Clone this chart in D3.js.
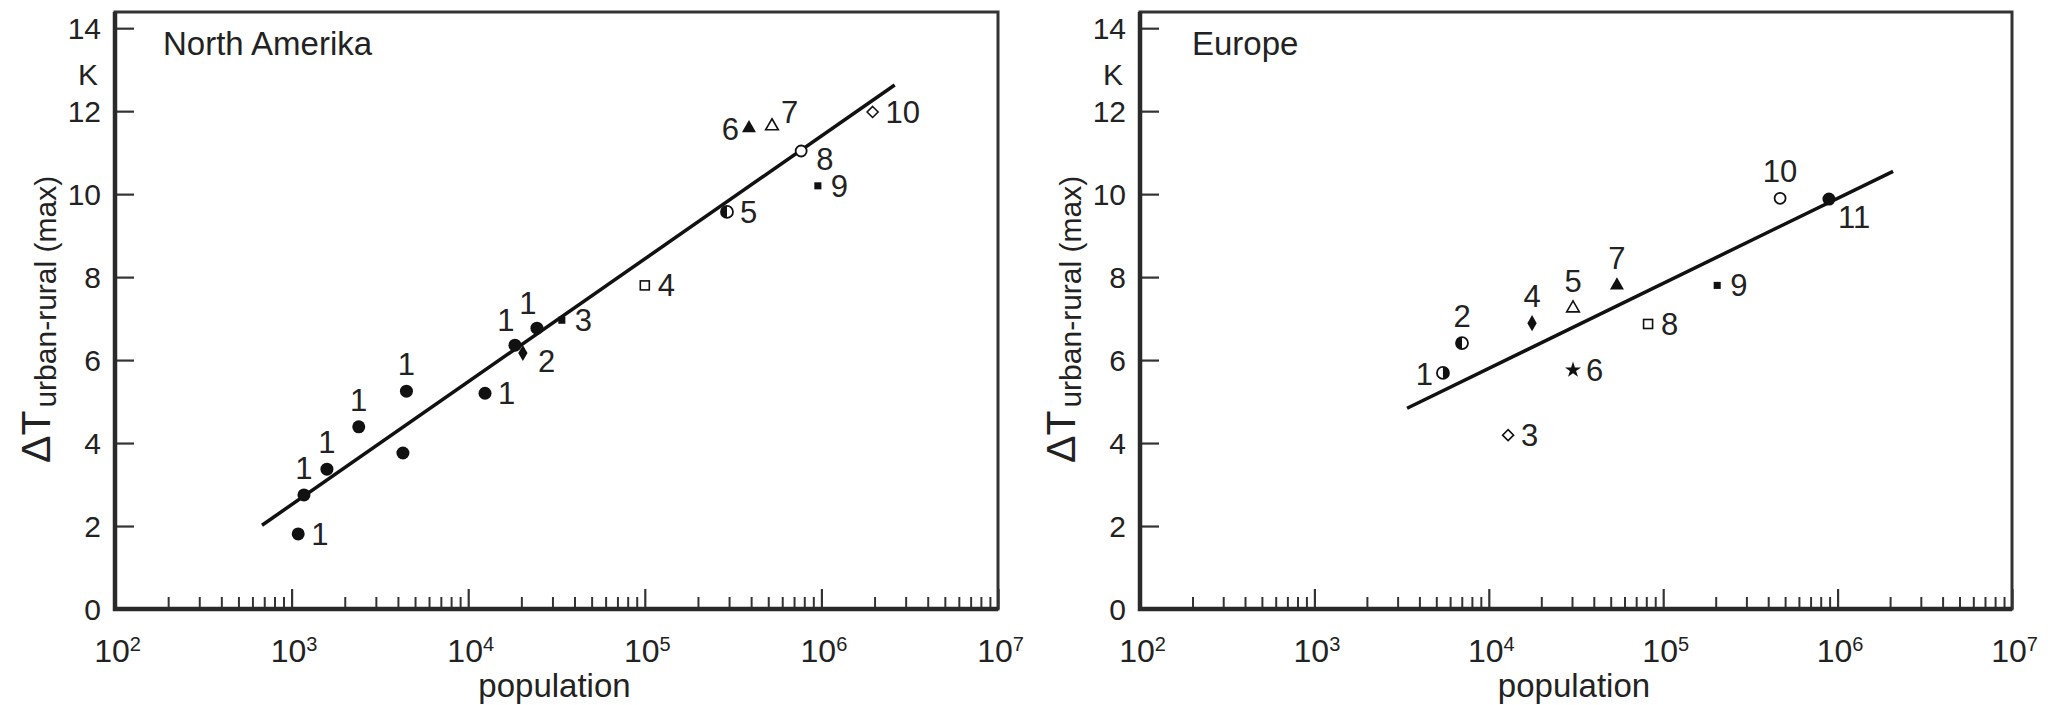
<!DOCTYPE html>
<html>
<head>
<meta charset="utf-8">
<script src="https://cdn.jsdelivr.net/npm/d3@7"></script>
<style>
  body { margin: 0; background: #fff; }
  text { font-family: "Liberation Sans", Arial, Helvetica, sans-serif; fill: #222; }
</style>
</head>
<body>
<div id="chart"></div>
<script>
var svgWidth = 2059;
var svgHeight = 705;

// ---- North Amerika ----
var naPop = [1090, 1175, 1585, 2400, 4270, 4470, 12450, 18400, 24500, 20400, 33900, 100000, 292000, 389000, 525000, 768000, 955000, 1950000];
var naDT = [1.81, 2.75, 3.37, 4.39, 3.76, 5.25, 5.2, 6.36, 6.77, 6.17, 6.96, 7.8, 9.57, 11.59, 11.64, 11.04, 10.2, 11.98];
var naLabel = ["1", "1", "1", "1", "", "1", "1", "1", "1", "2", "3", "4", "5", "6", "7", "8", "9", "10"];
var naMarker = ["dot", "dot", "dot", "dot", "dot", "dot", "dot", "dot", "dot", "dia-f", "sq-f", "sq-o", "half-l", "tri-f", "tri-o", "circ-o", "sq-f", "dia-o"];
var naLabelAt = ["r", "t", "t", "t", "", "t", "r", "tl", "tl", "br", "r", "r", "r", "l", "tr", "br", "r", "r"];
var naFitPop = [680, 2600000];
var naFitDT = [2.02, 12.63];

// ---- Europe ----
var euPop = [5460, 7020, 12900, 17700, 30400, 30400, 54300, 81900, 204000, 468000, 892000];
var euDT = [5.69, 6.41, 4.19, 6.89, 7.25, 5.76, 7.8, 6.87, 7.8, 9.9, 9.88];
var euLabel = ["1", "2", "3", "4", "5", "6", "7", "8", "9", "10", "11"];
var euMarker = ["half-r", "half-l", "dia-o", "dia-f", "tri-o", "star", "tri-f", "sq-o", "sq-f", "circ-o", "dot"];
var euLabelAt = ["l", "t", "r", "t", "t", "r", "t", "r", "r", "t", "br2"];
var euFitPop = [3400, 2080000];
var euFitDT = [4.84, 10.55];

// axis ticks
var yTicks = [0, 2, 4, 6, 8, 10, 12, 14];
var xDecades = [2, 3, 4, 5, 6, 7];

// label offsets: [dx, dy, anchor]
var labelOffset = {
  r: [13, 11, "start"],
  br: [15, 19, "start"],
  br2: [9, 29, "start"],
  l: [-10, 12, "end"],
  t: [0, -16, "middle"],
  tl: [-9, -14, "middle"],
  tr: [9, -3, "start"]
};

var svg = d3.select("#chart")
  .append("svg")
  .attr("width", svgWidth)
  .attr("height", svgHeight);

var ink = "#111";

function drawMarker(g, kind, x, y) {
  var m = g.append("g").attr("transform", `translate(${x}, ${y})`);
  if (kind === "dot") {
    m.append("circle").attr("r", 6.5).attr("fill", ink);
  }
  else if (kind === "circ-o") {
    m.append("circle").attr("r", 5.5).attr("fill", "#fff").attr("stroke", ink).attr("stroke-width", 1.8);
  }
  else if (kind === "half-l" || kind === "half-r") {
    m.append("circle").attr("r", 6).attr("fill", "#fff").attr("stroke", ink).attr("stroke-width", 1.8);
    var a0 = kind === "half-l" ? Math.PI : 0;
    m.append("path")
      .attr("d", d3.arc().innerRadius(0).outerRadius(6).startAngle(a0).endAngle(a0 + Math.PI)())
      .attr("fill", ink);
  }
  else if (kind === "tri-f") {
    m.append("path").attr("d", d3.symbol(d3.symbolTriangle, 85)()).attr("fill", ink);
  }
  else if (kind === "tri-o") {
    m.append("path").attr("d", d3.symbol(d3.symbolTriangle, 70)())
      .attr("fill", "#fff").attr("stroke", ink).attr("stroke-width", 1.6);
  }
  else if (kind === "sq-f") {
    m.append("path").attr("d", d3.symbol(d3.symbolSquare, 50)()).attr("fill", ink);
  }
  else if (kind === "sq-o") {
    m.append("rect").attr("x", -4.5).attr("y", -4.5).attr("width", 9).attr("height", 9)
      .attr("fill", "#fff").attr("stroke", ink).attr("stroke-width", 1.6);
  }
  else if (kind === "dia-f") {
    m.append("path").attr("d", d3.symbol(d3.symbolDiamond, 75)()).attr("fill", ink);
  }
  else if (kind === "dia-o") {
    m.append("path").attr("d", "M0,-5.5L5.5,0L0,5.5L-5.5,0Z")
      .attr("fill", "#fff").attr("stroke", ink).attr("stroke-width", 1.6);
  }
  else if (kind === "star") {
    m.append("path").attr("d", d3.symbol(d3.symbolStar, 80)()).attr("fill", ink);
  }
}

function drawPanel(p) {
  var g = svg.append("g");

  var x = d3.scaleLog().domain([1e2, 1e7]).range([p.left, p.right]);
  var y = d3.scaleLinear().domain([0, 14.39]).range([609, 12]);

  // y axis, ticks pointing inwards
  var yAxis = g.append("g")
    .attr("transform", `translate(${p.left}, 0)`)
    .call(d3.axisLeft(y).tickValues(yTicks).tickSizeInner(-19).tickSizeOuter(0).tickPadding(14));
  yAxis.select(".domain").remove();
  yAxis.selectAll(".tick line").attr("stroke", "#333").attr("stroke-width", 2.2);
  yAxis.selectAll(".tick text").attr("font-size", 30).attr("fill", "#222").attr("dy", "0.36em");

  // x axis, minor ticks
  var minor = [];
  for (var i = 2; i < 7; i++) {
    for (var k = 2; k <= 9; k++) minor.push(k * Math.pow(10, i));
  }
  var xMinor = g.append("g")
    .attr("transform", "translate(0, 609)")
    .call(d3.axisBottom(x).tickValues(minor).tickSizeInner(-12).tickSizeOuter(0).tickFormat(""));
  xMinor.select(".domain").remove();
  xMinor.selectAll(".tick line").attr("stroke", "#333").attr("stroke-width", 2);

  // x axis, decades
  var xAxis = g.append("g")
    .attr("transform", "translate(0, 609)")
    .call(d3.axisBottom(x).tickValues(xDecades.map(d => Math.pow(10, d)))
      .tickSizeInner(-20).tickSizeOuter(0).tickPadding(0).tickFormat(""));
  xAxis.select(".domain").remove();
  xAxis.selectAll(".tick line").attr("stroke", "#333").attr("stroke-width", 2.2);
  xAxis.selectAll(".tick text").remove();
  xAxis.selectAll(".tick").append("text")
    .attr("y", 53)
    .attr("x", 2)
    .attr("text-anchor", "middle")
    .attr("font-size", 32)
    .attr("fill", "#222")
    .each(function(d, i) {
      var t = d3.select(this);
      t.append("tspan").text("10");
      t.append("tspan").attr("font-size", 20).attr("dy", -11).text(xDecades[i]);
    });

  // frame
  g.append("rect")
    .attr("x", p.left).attr("y", 12)
    .attr("width", p.right - p.left).attr("height", 609 - 12)
    .attr("fill", "none").attr("stroke", "#333").attr("stroke-width", 3);
  g.append("path")
    .attr("d", `M${p.left},12V609H${p.right}`)
    .attr("fill", "none").attr("stroke", "#2a2a2a").attr("stroke-width", 4.5);

  // unit
  g.append("text")
    .attr("x", p.left - 17).attr("y", 85)
    .attr("text-anchor", "end")
    .attr("font-size", 30)
    .text("K");

  // panel title
  g.append("text")
    .attr("x", p.left + p.titleDx).attr("y", 55)
    .attr("font-size", 33)
    .text(p.title);

  // y axis title
  var yt = g.append("text")
    .attr("transform", `translate(${p.left - 65}, 463) rotate(-90)`)
    .attr("text-anchor", "start");
  yt.append("tspan").attr("font-size", 41).text("\u0394T");
  yt.append("tspan").attr("font-size", 30).attr("dy", 6).attr("dx", 3).text("urban-rural (max)");

  // x axis title
  g.append("text")
    .attr("x", p.left + (p.right - p.left) * 0.5 - 2).attr("y", 697)
    .attr("text-anchor", "middle")
    .attr("font-size", 33)
    .text("population");

  // regression line
  g.append("line")
    .attr("x1", x(p.fitPop[0])).attr("y1", y(p.fitDT[0]))
    .attr("x2", x(p.fitPop[1])).attr("y2", y(p.fitDT[1]))
    .attr("stroke", ink).attr("stroke-width", 3.5);

  // points
  var pts = g.append("g");
  p.pop.forEach(function(v, i) {
    drawMarker(pts, p.marker[i], x(v), y(p.dT[i]));
  });

  // point labels
  p.pop.forEach(function(v, i) {
    if (!p.label[i]) return;
    var off = labelOffset[p.labelAt[i]];
    g.append("text")
      .attr("x", x(v) + off[0])
      .attr("y", y(p.dT[i]) + off[1])
      .attr("text-anchor", off[2])
      .attr("font-size", 31)
      .text(p.label[i]);
  });
}

drawPanel({
  left: 115, right: 998, title: "North Amerika", titleDx: 48,
  pop: naPop, dT: naDT, label: naLabel, marker: naMarker, labelAt: naLabelAt,
  fitPop: naFitPop, fitDT: naFitDT
});

drawPanel({
  left: 1140, right: 2012, title: "Europe", titleDx: 52,
  pop: euPop, dT: euDT, label: euLabel, marker: euMarker, labelAt: euLabelAt,
  fitPop: euFitPop, fitDT: euFitDT
});
</script>
</body>
</html>
